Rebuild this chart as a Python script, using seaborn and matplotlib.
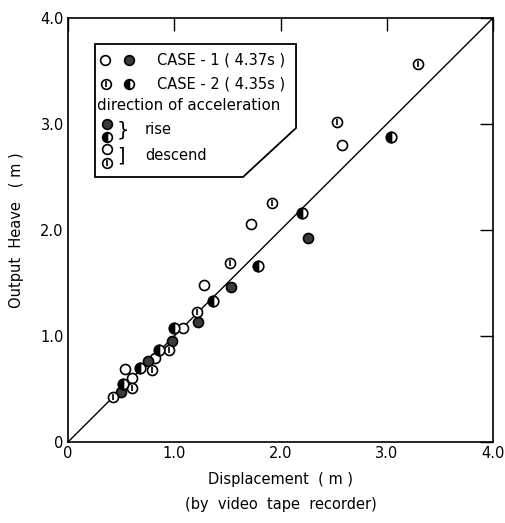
import matplotlib
matplotlib.use("Agg")
import matplotlib.pyplot as plt
import seaborn as sns
import numpy as np
from matplotlib.patches import Polygon

sns.set_theme(style="white")
plt.rcParams['font.family'] = ['DejaVu Sans']

# CASE-1 descend (open circles)
c1_desc_x = [0.54, 0.60, 0.82, 1.08, 1.28, 1.72, 2.58]
c1_desc_y = [0.69, 0.60, 0.79, 1.08, 1.48, 2.06, 2.80]
# CASE-1 rise (dark circles)
c1_rise_x = [0.50, 0.75, 0.98, 1.22, 1.53, 2.26]
c1_rise_y = [0.47, 0.76, 0.95, 1.13, 1.46, 1.92]
# CASE-2 descend (circle with bar)
c2_desc_x = [0.42, 0.60, 0.79, 0.95, 1.21, 1.52, 1.92, 2.53, 3.29]
c2_desc_y = [0.42, 0.51, 0.68, 0.87, 1.23, 1.69, 2.25, 3.02, 3.57]
# CASE-2 rise (half-filled)
c2_rise_x = [0.52, 0.68, 0.86, 1.00, 1.36, 1.79, 2.20, 3.04]
c2_rise_y = [0.55, 0.70, 0.87, 1.08, 1.33, 1.66, 2.16, 2.88]

ticks = [0, 1, 2, 3, 4]
tick_labels = ["0", "1.0", "2.0", "3.0", "4.0"]

fig = plt.figure(figsize=(5.06, 5.23), dpi=100)
ax = fig.add_axes([0.1344, 0.1549, 0.840, 0.8107])

ax.plot([0, 4], [0, 4], color='black', lw=1.0, zorder=1)

ms = 52
sns.scatterplot(x=c1_desc_x, y=c1_desc_y, ax=ax, marker='o', s=ms,
                facecolor='white', edgecolor='black', linewidth=1.2, zorder=3)
sns.scatterplot(x=c1_rise_x, y=c1_rise_y, ax=ax, marker='o', s=ms,
                facecolor='#3a3a3a', edgecolor='black', linewidth=1.2, zorder=3)
sns.scatterplot(x=c2_desc_x, y=c2_desc_y, ax=ax, marker='o', s=ms,
                facecolor='white', edgecolor='black', linewidth=1.2, zorder=3)
sns.scatterplot(x=c2_desc_x, y=c2_desc_y, ax=ax, marker='|', s=22,
                color='black', linewidth=1.2, zorder=4)
ax.plot(c2_rise_x, c2_rise_y, linestyle='none', marker='o', ms=7.6,
        fillstyle='left', markerfacecolor='black', markerfacecoloralt='white',
        markeredgecolor='black', markeredgewidth=1.2, zorder=3)

ax.set_xlim(0, 4)
ax.set_ylim(0, 4)
ax.set_xticks(ticks)
ax.set_xticklabels(tick_labels)
ax.set_yticks(ticks)
ax.set_yticklabels(tick_labels)
ax.tick_params(direction='in', length=9.5, width=1, colors='black',
               top=True, right=True, labelsize=10.5, pad=3)
for sp in ax.spines.values():
    sp.set_color('black')
    sp.set_linewidth(1.2)

ax.set_xlabel("Displacement  ( m )\n(by  video  tape  recorder)", fontsize=10.5,
              labelpad=8, linespacing=1.8, color='black')
ax.set_ylabel("Output  Heave   ( m )", fontsize=10.5, labelpad=12, color='black')

# legend box (axes fraction coords)
def fx(px):
    return (px - 68) / 425.0
def fy(py):
    return (442 - py) / 424.0

poly = Polygon([(fx(95), fy(44)), (fx(296), fy(44)), (fx(296), fy(128)),
                (fx(243), fy(177)), (fx(95), fy(177))], closed=True,
               transform=ax.transAxes, facecolor='white', edgecolor='black',
               lw=1.3, zorder=5)
ax.add_patch(poly)

tr = ax.transAxes
def leg_marker(px, py, kind):
    x, y = fx(px), fy(py)
    if kind == 'open':
        ax.plot(x, y, 'o', ms=7, mfc='white', mec='black', mew=1.2, transform=tr, zorder=6)
    elif kind == 'dark':
        ax.plot(x, y, 'o', ms=7, mfc='#3a3a3a', mec='black', mew=1.2, transform=tr, zorder=6)
    elif kind == 'bar':
        ax.plot(x, y, 'o', ms=7, mfc='white', mec='black', mew=1.2, transform=tr, zorder=6)
        ax.plot(x, y, '|', ms=4.5, color='black', mew=1.2, transform=tr, zorder=7)
    elif kind == 'half':
        ax.plot(x, y, 'o', ms=7, fillstyle='left', mfc='black', mfcalt='white',
                mec='black', mew=1.2, transform=tr, zorder=6)

leg_marker(105, 60, 'open')
leg_marker(129, 60, 'dark')
leg_marker(106, 84, 'bar')
leg_marker(129, 84, 'half')
leg_marker(107, 124, 'dark')
leg_marker(107, 137, 'half')
leg_marker(107, 149, 'open')
leg_marker(107, 163, 'bar')

fs = 10.5
ax.text(fx(157), fy(60), "CASE - 1 ( 4.37s )", transform=tr, fontsize=fs,
        va='center', ha='left', zorder=7, color='black')
ax.text(fx(157), fy(84), "CASE - 2 ( 4.35s )", transform=tr, fontsize=fs,
        va='center', ha='left', zorder=7, color='black')
ax.text(fx(97), fy(106), "direction of acceleration", transform=tr, fontsize=10.8,
        va='center', ha='left', zorder=7, color='black')
ax.text(fx(117), fy(130), "}", transform=tr, fontsize=14, va='center', ha='left',
        zorder=7, color='black')
ax.text(fx(145), fy(130), "rise", transform=tr, fontsize=fs, va='center',
        ha='left', zorder=7, color='black')
ax.text(fx(117), fy(156), "]", transform=tr, fontsize=14, va='center', ha='left',
        zorder=7, color='black')
ax.text(fx(145), fy(156), "descend", transform=tr, fontsize=fs, va='center',
        ha='left', zorder=7, color='black')

fig.savefig("out.png", dpi=100, facecolor='white')
